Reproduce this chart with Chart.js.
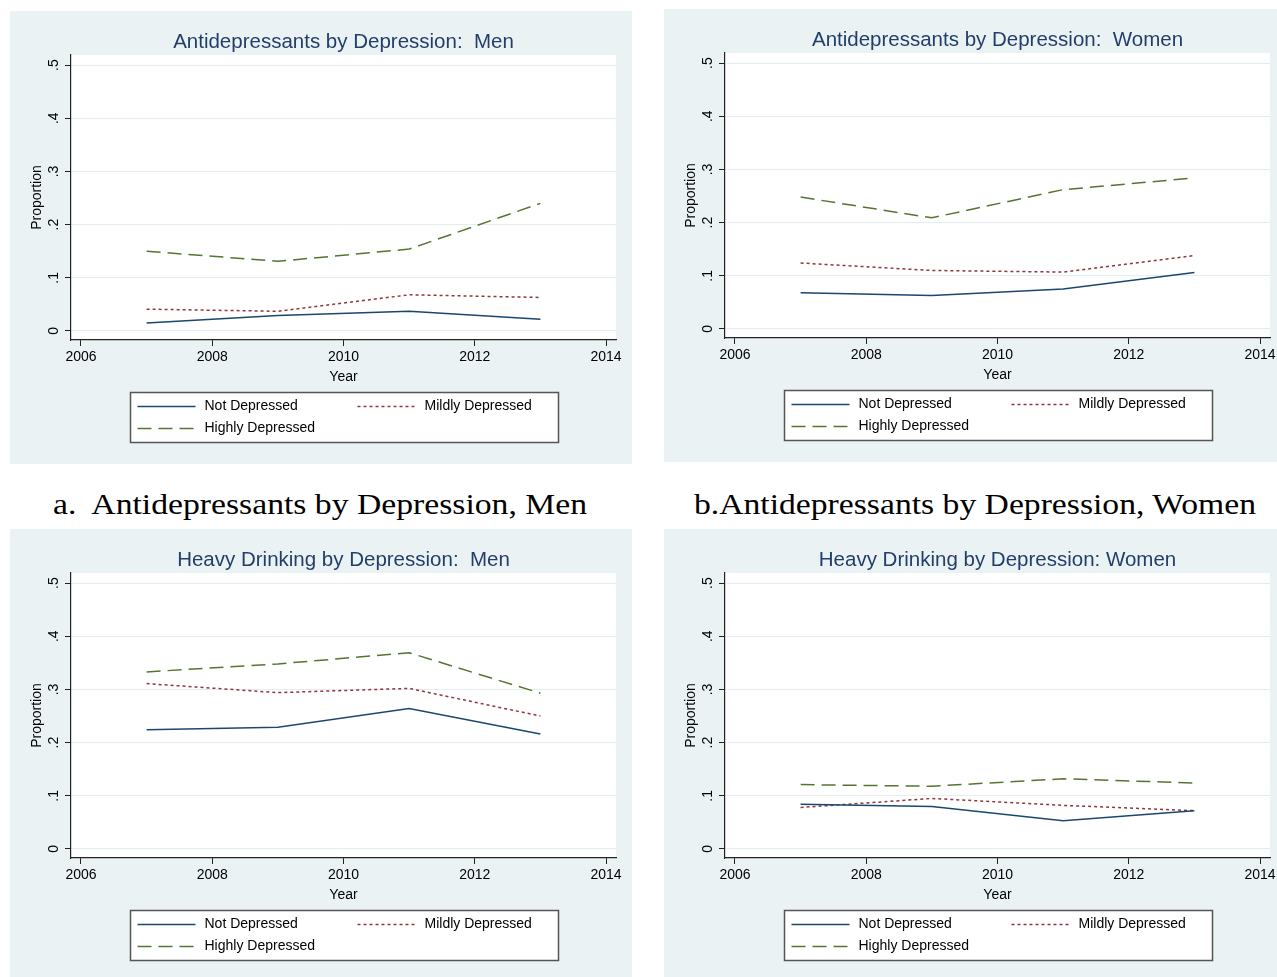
<!DOCTYPE html>
<html>
<head>
<meta charset="utf-8">
<script src="https://cdn.jsdelivr.net/npm/chart.js@4.4.1/dist/chart.umd.min.js"></script>
<style>
  html, body { margin: 0; padding: 0; background: #ffffff; width: 1277px; height: 977px; overflow: hidden; position: relative; }
  .panel { position: absolute; width: 622px; height: 453px; background: #eaf2f3; }
  .panel canvas { display: block; }
  .cap { position: absolute; top: 490px; font-family: "Liberation Serif", "Times New Roman", serif; font-size: 29px; line-height: 29px; color: #000; white-space: pre; transform-origin: 0 0; }
</style>
</head>
<body>
<div class="panel" style="left:10px;top:11px"><canvas id="c0" width="622" height="453"></canvas></div>
<div class="panel" style="left:664px;top:9px"><canvas id="c1" width="622" height="453"></canvas></div>
<div class="panel" style="left:10px;top:529px"><canvas id="c2" width="622" height="453"></canvas></div>
<div class="panel" style="left:664px;top:529px"><canvas id="c3" width="622" height="453"></canvas></div>
<span class="cap" id="cap0" style="left:53px"></span>
<span class="cap" id="cap1" style="left:694px"></span>

<script>
// Survey years and axis ticks
const years = [2007, 2009, 2011, 2013];
const xTicks = [2006, 2008, 2010, 2012, 2014];
const yTicks = [0, 0.1, 0.2, 0.3, 0.4, 0.5];
const yTickLabels = ['0', '.1', '.2', '.3', '.4', '.5'];
const seriesNames = ['Not Depressed', 'Mildly Depressed', 'Highly Depressed'];

const panelTitles = [
  'Antidepressants by Depression:  Men',
  'Antidepressants by Depression:  Women',
  'Heavy Drinking by Depression:  Men',
  'Heavy Drinking by Depression: Women'
];
const captions = [
  'a.  Antidepressants by Depression, Men',
  'b.Antidepressants by Depression, Women'
];

// Proportions by depression level
const antiMenNot     = [0.015, 0.029, 0.037, 0.022];
const antiMenMild    = [0.041, 0.037, 0.068, 0.063];
const antiMenHigh    = [0.150, 0.131, 0.154, 0.240];

const antiWomenNot   = [0.068, 0.063, 0.075, 0.106];
const antiWomenMild  = [0.124, 0.110, 0.107, 0.138];
const antiWomenHigh  = [0.248, 0.209, 0.262, 0.284];

const drinkMenNot    = [0.224, 0.229, 0.264, 0.216];
const drinkMenMild   = [0.311, 0.294, 0.302, 0.250];
const drinkMenHigh   = [0.333, 0.348, 0.369, 0.293];

const drinkWomenNot  = [0.084, 0.080, 0.053, 0.072];
const drinkWomenMild = [0.078, 0.095, 0.082, 0.072];
const drinkWomenHigh = [0.121, 0.118, 0.132, 0.124];

const panels = [
  [antiMenNot, antiMenMild, antiMenHigh],
  [antiWomenNot, antiWomenMild, antiWomenHigh],
  [drinkMenNot, drinkMenMild, drinkMenHigh],
  [drinkWomenNot, drinkWomenMild, drinkWomenHigh]
];

const lineColors = ['#1a476f', '#90353b', '#55752f'];
const lineDashes = [[], [3, 3], [14, 7]];
const sansFont = 'Arial, "Liberation Sans", Helvetica, sans-serif';

// White plot region inside the tinted graph background
const plotFill = {
  id: 'plotFill',
  beforeDraw(chart) {
    const { ctx, chartArea: a } = chart;
    ctx.save();
    ctx.fillStyle = '#ffffff';
    ctx.fillRect(a.left, a.top, a.right - a.left, a.bottom - a.top);
    ctx.restore();
  }
};

// Boxed two-column legend under the x axis
const boxLegend = {
  id: 'boxLegend',
  afterDraw(chart) {
    const { ctx, chartArea } = chart;
    const w = 428, h = 50;
    const left = Math.round((chartArea.left + chartArea.right) / 2 - w / 2) + 0.5;
    const top = Math.round(chartArea.bottom + 52) + 0.5;
    ctx.save();
    ctx.fillStyle = '#ffffff';
    ctx.fillRect(left, top, w, h);
    ctx.strokeStyle = '#555555';
    ctx.lineWidth = 1.5;
    ctx.strokeRect(left, top, w, h);
    const slots = [[7, 14], [227, 14], [7, 36]];
    chart.data.datasets.forEach((ds, i) => {
      const [dx, dy] = slots[i];
      ctx.strokeStyle = ds.borderColor;
      ctx.lineWidth = ds.borderWidth;
      ctx.setLineDash(ds.borderDash || []);
      ctx.beginPath();
      ctx.moveTo(left + dx, top + dy);
      ctx.lineTo(left + dx + 58, top + dy);
      ctx.stroke();
      ctx.setLineDash([]);
      ctx.fillStyle = '#000000';
      ctx.font = '14px ' + sansFont;
      ctx.textAlign = 'left';
      ctx.textBaseline = 'middle';
      ctx.fillText(ds.label, left + dx + 67, top + dy);
    });
    ctx.restore();
  }
};

function makeChart(id, title, values) {
  return new Chart(document.getElementById(id), {
    type: 'line',
    data: {
      datasets: seriesNames.map((name, i) => ({
        label: name,
        data: years.map((yr, j) => ({ x: yr, y: values[i][j] })),
        borderColor: lineColors[i],
        borderWidth: 1.5,
        borderDash: lineDashes[i],
        pointRadius: 0,
        tension: 0,
        fill: false
      }))
    },
    options: {
      responsive: false,
      animation: false,
      devicePixelRatio: 1,
      layout: { padding: { left: 0, right: 16, top: 0, bottom: 0 } },
      plugins: {
        legend: { display: false },
        tooltip: { enabled: false },
        title: {
          display: true,
          text: title,
          fullSize: false,
          color: '#243e6b',
          font: { family: sansFont, size: 20.5, weight: 'normal' },
          padding: { top: 18.7, bottom: 0.7 }
        }
      },
      scales: {
        x: {
          type: 'linear',
          min: 2005.848,
          max: 2014.152,
          afterBuildTicks: s => { s.ticks = xTicks.map(v => ({ value: v })); },
          afterFit: s => { s.height = 124; },
          grid: { drawOnChartArea: false, tickLength: 6, tickColor: '#222222', tickWidth: 1 },
          border: { color: '#222222', width: 1.2 },
          ticks: {
            color: '#000000',
            font: { family: sansFont, size: 14 },
            padding: 3,
            maxRotation: 0,
            autoSkip: false,
            callback: v => String(v)
          },
          title: {
            display: true,
            text: 'Year',
            color: '#000000',
            font: { family: sansFont, size: 14 },
            padding: { top: 0, bottom: 78 }
          }
        },
        y: {
          type: 'linear',
          min: -0.017,
          max: 0.519,
          afterBuildTicks: s => { s.ticks = yTicks.map(v => ({ value: v })); },
          afterFit: s => { s.width = 61; },
          grid: { color: '#e3edf0', lineWidth: 1, tickLength: 6, tickColor: '#222222', tickWidth: 1 },
          border: { color: '#222222', width: 1.2 },
          ticks: {
            color: '#000000',
            font: { family: sansFont, size: 14 },
            minRotation: 90,
            maxRotation: 90,
            crossAlign: 'center',
            padding: 5,
            autoSkip: false,
            callback: (v, i) => yTickLabels[i]
          },
          title: {
            display: true,
            text: 'Proportion',
            color: '#000000',
            font: { family: sansFont, size: 14 },
            padding: { top: 19, bottom: 0 }
          }
        }
      }
    },
    plugins: [plotFill, boxLegend]
  });
}

panels.forEach((vals, k) => makeChart('c' + k, panelTitles[k], vals));

// Captions under the top row, stretched to their set widths
const capWidths = [534, 562];
captions.forEach((txt, k) => {
  const el = document.getElementById('cap' + k);
  el.textContent = txt;
  const w = el.getBoundingClientRect().width;
  el.style.transform = 'scaleX(' + (capWidths[k] / w) + ')';
});
</script>
</body>
</html>
